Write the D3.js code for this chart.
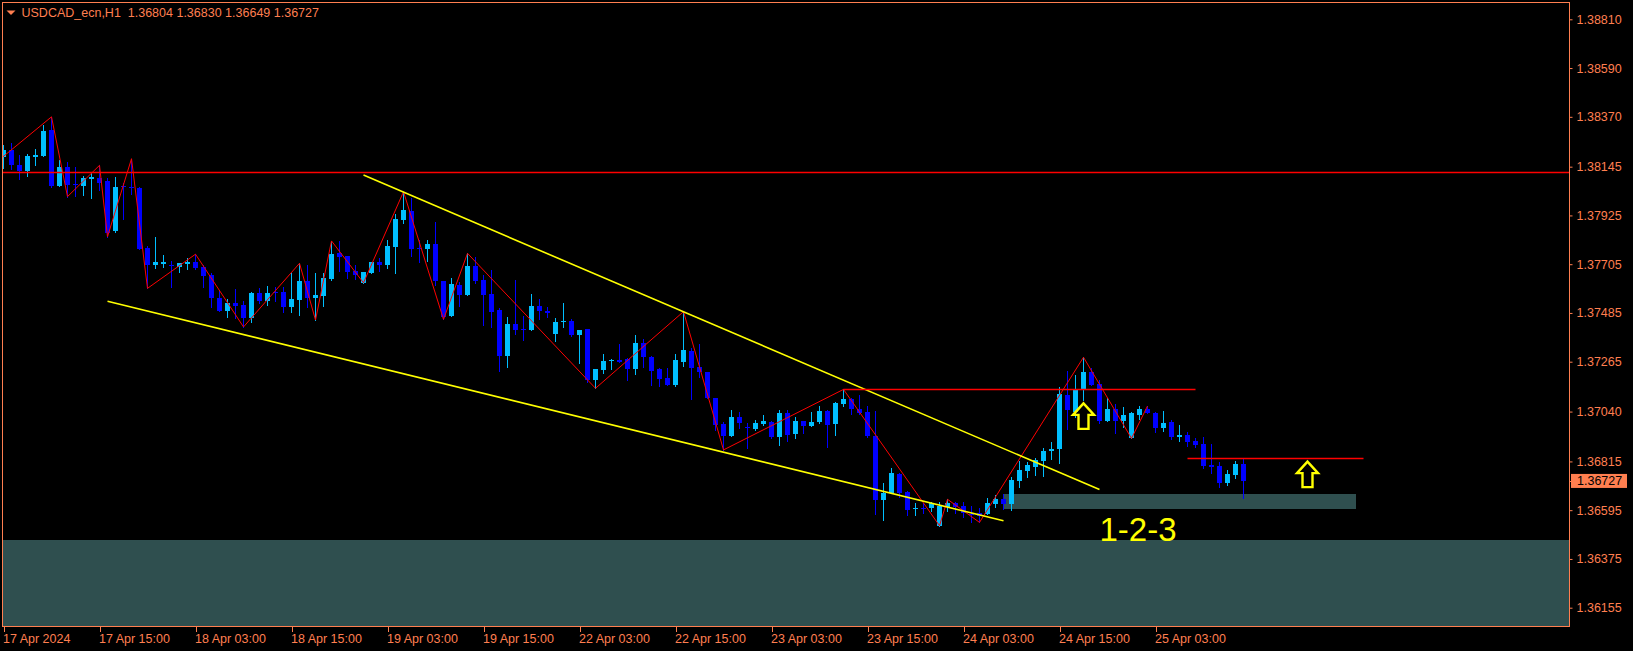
<!DOCTYPE html>
<html><head><meta charset="utf-8">
<script src="https://cdn.jsdelivr.net/npm/d3@7"></script>
<style>
html,body{margin:0;padding:0;background:#000;overflow:hidden;}
svg{display:block;}
text{font-family:"Liberation Sans",Arial,sans-serif;}
</style></head><body>
<svg id="chart" width="1633" height="651"></svg>
<script>
// ---------- DATA ----------
const symbolTitle = "USDCAD_ecn,H1";
const headerOHLC = [1.36804, 1.36830, 1.36649, 1.36727];

const opens = [
1.38187,1.38220,1.38152,1.38125,1.38190,1.38194,1.38310,1.38059,1.38144,1.38067,
1.38059,1.38091,1.38095,1.38080,1.37855,1.38058,1.38055,1.38050,1.37778,1.37701,
1.37707,1.37703,1.37694,1.37706,1.37716,1.37692,1.37656,1.37554,1.37495,1.37531,
1.37521,1.37464,1.37576,1.37538,1.37578,1.37580,1.37513,1.37543,1.37629,1.37554,
1.37561,1.37638,1.37756,1.37742,1.37674,1.37621,1.37667,1.37715,1.37701,1.37784,
1.37904,1.37946,1.37779,1.37774,1.37796,1.37629,1.37471,1.37611,1.37566,1.37697,
1.37634,1.37570,1.37498,1.37292,1.37435,1.37411,1.37408,1.37518,1.37494,1.37390,
1.37444,1.37449,1.37386,1.37411,1.37182,1.37228,1.37267,1.37273,1.37276,1.37232,
1.37351,1.37288,1.37231,1.37193,1.37160,1.37265,1.37313,1.37240,1.37220,1.37103,
1.36984,1.36931,1.37016,1.36972,1.36961,1.36983,1.36994,1.36927,1.37034,1.36939,
1.36997,1.36976,1.36992,1.37043,1.36984,1.37073,1.37097,1.37050,1.37039,1.36930,
1.36641,1.36671,1.36758,1.36678,1.36599,1.36606,1.36604,1.36525,1.36611,1.36626,
1.36615,1.36578,1.36581,1.36578,1.36623,1.36645,1.36623,1.36728,1.36772,1.36791,
1.36818,1.36861,1.36870,1.37115,1.37039,1.37140,1.37220,1.37164,1.36999,1.37052,
1.36999,1.36919,1.37025,1.37052,1.37032,1.36967,1.36992,1.36927,1.36934,1.36907,
1.36894,1.36799,1.36794,1.36716,1.36754,1.36804];
const highs = [
1.38243,1.38250,1.38198,1.38202,1.38225,1.38333,1.38370,1.38175,1.38166,1.38144,
1.38102,1.38115,1.38151,1.38093,1.38097,1.38070,1.38181,1.38052,1.37788,1.37829,
1.37746,1.37718,1.37712,1.37733,1.37750,1.37703,1.37664,1.37589,1.37547,1.37593,
1.37539,1.37581,1.37599,1.37607,1.37603,1.37603,1.37665,1.37709,1.37701,1.37667,
1.37664,1.37810,1.37810,1.37742,1.37701,1.37671,1.37716,1.37734,1.37814,1.37931,
1.38032,1.38002,1.37814,1.37814,1.37897,1.37629,1.37641,1.37626,1.37754,1.37739,
1.37656,1.37679,1.37509,1.37467,1.37634,1.37471,1.37570,1.37547,1.37510,1.37461,
1.37529,1.37456,1.37408,1.37413,1.37232,1.37300,1.37277,1.37345,1.37280,1.37386,
1.37366,1.37291,1.37238,1.37238,1.37300,1.37491,1.37326,1.37345,1.37220,1.37103,
1.36994,1.37047,1.37039,1.36987,1.37002,1.37025,1.36997,1.37047,1.37047,1.37016,
1.36997,1.37039,1.37066,1.37047,1.37085,1.37140,1.37103,1.37115,1.37065,1.37043,
1.36716,1.36787,1.36764,1.36682,1.36626,1.36626,1.36633,1.36633,1.36644,1.36633,
1.36633,1.36615,1.36604,1.36651,1.36664,1.36667,1.36746,1.36817,1.36814,1.36829,
1.36877,1.36904,1.37150,1.37223,1.37205,1.37285,1.37235,1.37182,1.37100,1.37074,
1.37062,1.37039,1.37065,1.37065,1.37039,1.37043,1.37002,1.36979,1.36946,1.36919,
1.36927,1.36894,1.36814,1.36776,1.36817,1.36830];
const lows = [
1.38140,1.38134,1.38089,1.38104,1.38152,1.38194,1.38055,1.38059,1.38010,1.38013,
1.38017,1.38005,1.38040,1.37829,1.37850,1.37909,1.38022,1.37772,1.37596,1.37689,
1.37694,1.37603,1.37671,1.37682,1.37682,1.37603,1.37513,1.37495,1.37468,1.37462,
1.37422,1.37444,1.37529,1.37522,1.37539,1.37491,1.37491,1.37476,1.37513,1.37453,
1.37518,1.37634,1.37674,1.37641,1.37638,1.37621,1.37667,1.37676,1.37689,1.37667,
1.37892,1.37743,1.37716,1.37719,1.37611,1.37456,1.37471,1.37518,1.37566,1.37621,
1.37431,1.37423,1.37223,1.37243,1.37390,1.37363,1.37408,1.37458,1.37468,1.37358,
1.37423,1.37382,1.37260,1.37175,1.37145,1.37215,1.37231,1.37265,1.37182,1.37210,
1.37240,1.37160,1.37155,1.37160,1.37155,1.37247,1.37095,1.37197,1.37100,1.36957,
1.36867,1.36931,1.36967,1.36874,1.36957,1.36979,1.36919,1.36889,1.36907,1.36922,
1.36945,1.36976,1.36987,1.36879,1.36934,1.37066,1.37029,1.37029,1.36924,1.36578,
1.36551,1.36671,1.36656,1.36573,1.36573,1.36581,1.36593,1.36525,1.36591,1.36581,
1.36566,1.36543,1.36540,1.36578,1.36611,1.36599,1.36596,1.36701,1.36746,1.36754,
1.36751,1.36825,1.36807,1.36961,1.37017,1.37092,1.37160,1.36987,1.36999,1.36942,
1.36972,1.36919,1.37005,1.37035,1.36949,1.36954,1.36916,1.36909,1.36886,1.36882,
1.36787,1.36762,1.36701,1.36709,1.36742,1.36649];
const closes = [
1.38220,1.38152,1.38125,1.38194,1.38198,1.38306,1.38059,1.38144,1.38062,1.38062,
1.38094,1.38100,1.38071,1.37844,1.38053,1.38052,1.38047,1.37774,1.37701,1.37715,
1.37715,1.37700,1.37709,1.37716,1.37688,1.37653,1.37554,1.37495,1.37531,1.37518,
1.37464,1.37576,1.37538,1.37576,1.37574,1.37510,1.37548,1.37629,1.37554,1.37567,
1.37643,1.37751,1.37737,1.37671,1.37656,1.37668,1.37716,1.37701,1.37787,1.37909,
1.37950,1.37774,1.37775,1.37796,1.37629,1.37468,1.37616,1.37566,1.37697,1.37629,
1.37566,1.37491,1.37292,1.37435,1.37409,1.37408,1.37518,1.37494,1.37486,1.37445,
1.37450,1.37386,1.37408,1.37182,1.37232,1.37270,1.37274,1.37265,1.37232,1.37351,
1.37285,1.37223,1.37187,1.37160,1.37274,1.37318,1.37238,1.37220,1.37100,1.36979,
1.36931,1.37016,1.36990,1.36965,1.36990,1.36997,1.36927,1.37032,1.36934,1.36997,
1.36976,1.36994,1.37043,1.36979,1.37080,1.37097,1.37050,1.37035,1.36930,1.36641,
1.36674,1.36764,1.36671,1.36596,1.36606,1.36602,1.36626,1.36614,1.36629,1.36611,
1.36581,1.36573,1.36569,1.36629,1.36645,1.36623,1.36731,1.36776,1.36799,1.36822,
1.36862,1.36870,1.37118,1.37047,1.37137,1.37220,1.37160,1.36999,1.37052,1.36999,
1.37025,1.37032,1.37052,1.37035,1.36967,1.36987,1.36927,1.36934,1.36904,1.36889,
1.36794,1.36791,1.36716,1.36758,1.36803,1.36727];

const timeLabelBars = [0,12,24,36,48,60,72,84,96,108,120,132,144];
const timeLabels = ["17 Apr 2024","17 Apr 15:00","18 Apr 03:00","18 Apr 15:00","19 Apr 03:00","19 Apr 15:00",
  "22 Apr 03:00","22 Apr 15:00","23 Apr 03:00","23 Apr 15:00","24 Apr 03:00","24 Apr 15:00","25 Apr 03:00"];
const priceTicks = [1.38810,1.38590,1.38370,1.38145,1.37925,1.37705,1.37485,1.37265,1.37040,1.36815,1.36595,1.36375,1.36155];

// zigzag vertices: [bar index, price]
const zigzag = [[-1,1.38162],[6,1.38370],[8,1.38010],[12,1.38151],[13,1.37829],[16,1.38181],[18,1.37596],
  [24,1.37750],[30,1.37422],[37,1.37709],[39,1.37453],[41,1.37810],[45,1.37621],[50,1.38032],[55,1.37456],
  [58,1.37754],[74,1.37145],[85,1.37491],[90,1.36867],[105,1.37140],[117,1.36525],[118,1.36644],[122,1.36540],
  [135,1.37285],[141,1.36919],[143,1.37065]];
// trend lines: [bar1, price1, bar2, price2]
const trendLines = [[45,1.38107,137,1.36688],[13,1.37538,125,1.36547]];
// horizontal lines: [price, fromBar, toBar]
const hLines = [[1.38120,-10,260],[1.37140,105,149],[1.36829,148,170]];
// rectangles: [fromBar, toBar, priceTop, priceBottom]
const rects = [[-10,260,1.36461,1.35900],[125,169,1.36668,1.36600]];
// arrows: [bar, price of tip]
const arrows = [[135,1.37077],[163,1.36814]];
// text label: [bar, price baseline, text]
const labels123 = [[137,1.36456,"1-2-3"]];

// ---------- CHART ----------
const W=1633,H=651;
const L=2.5,R=1569.5,T=2.5,B=626.5;
const AX="#FF7F50", BULL="#00BFFF", BEAR="#0000FF";
const svg=d3.select("#chart");
svg.append("rect").attr("width",W).attr("height",H).attr("fill","#000");

const x=d3.scaleLinear().domain([0,195]).range([3.5,3.5+8*195]);
const y=d3.scaleLinear().domain([priceTicks[0],priceTicks[priceTicks.length-1]]).range([19.3,607.7]);

svg.append("defs").append("clipPath").attr("id","plot").append("rect")
  .attr("x",L).attr("y",T).attr("width",R-L).attr("height",B-T);
const g=svg.append("g").attr("clip-path","url(#plot)");

// rectangles
g.selectAll("rect.zone").data(rects).join("rect").attr("class","zone")
  .attr("x",d=>x(d[0])).attr("width",d=>x(d[1])-x(d[0]))
  .attr("y",d=>Math.round(y(d[2]))).attr("height",d=>Math.round(y(d[3]))-Math.round(y(d[2])))
  .attr("fill","#2F4F4F").attr("shape-rendering","crispEdges");

// candles
const bars=d3.range(opens.length).map(i=>({i,o:opens[i],h:highs[i],l:lows[i],c:closes[i]}));
const cg=g.append("g").attr("shape-rendering","crispEdges");
cg.selectAll("line").data(bars).join("line")
  .attr("x1",d=>x(d.i)).attr("x2",d=>x(d.i))
  .attr("y1",d=>Math.round(y(d.h))).attr("y2",d=>Math.round(y(d.l))+1)
  .attr("stroke",d=>d.c>=d.o?BULL:BEAR).attr("stroke-width",1);
cg.selectAll("rect").data(bars).join("rect")
  .attr("x",d=>x(d.i)-2.5).attr("width",5)
  .attr("y",d=>Math.round(y(Math.max(d.o,d.c))))
  .attr("height",d=>Math.max(1,Math.round(y(Math.min(d.o,d.c)))-Math.round(y(Math.max(d.o,d.c)))))
  .attr("fill",d=>d.c>=d.o?BULL:BEAR);

// zigzag
g.append("path").datum(zigzag)
  .attr("d",d3.line().x(d=>x(d[0])).y(d=>y(d[1])))
  .attr("fill","none").attr("stroke","#FF0000").attr("stroke-width",1);

// trend lines
g.selectAll("line.trend").data(trendLines).join("line").attr("class","trend")
  .attr("x1",d=>x(d[0])).attr("y1",d=>y(d[1])).attr("x2",d=>x(d[2])).attr("y2",d=>y(d[3]))
  .attr("stroke","#FFFF00").attr("stroke-width",1.6);

// horizontal lines
g.selectAll("line.h").data(hLines).join("line").attr("class","h")
  .attr("x1",d=>x(d[1])).attr("x2",d=>x(d[2]))
  .attr("y1",d=>Math.round(y(d[0]))+0.5).attr("y2",d=>Math.round(y(d[0]))+0.5)
  .attr("stroke","#FF0000").attr("stroke-width",1.6);

// arrows
const arrowPath="M0,0 L10.5,11.5 L5,11.5 L5,25.5 L-5,25.5 L-5,11.5 L-10.5,11.5 Z";
g.selectAll("path.arrow").data(arrows).join("path").attr("class","arrow")
  .attr("transform",d=>`translate(${x(d[0])},${y(d[1])})`)
  .attr("d",arrowPath).attr("fill","none").attr("stroke","#FFFF00").attr("stroke-width",2.4)
  .attr("stroke-linejoin","miter");

// 1-2-3 text
g.selectAll("text.lbl").data(labels123).join("text").attr("class","lbl")
  .attr("x",d=>x(d[0])).attr("y",d=>y(d[1])).text(d=>d[2])
  .attr("fill","#FFFF00").attr("font-size","33px");

// frame
svg.append("rect").attr("x",L).attr("y",T).attr("width",R-L).attr("height",B-T)
  .attr("fill","none").attr("stroke",AX).attr("stroke-width",1).attr("shape-rendering","crispEdges");

// y axis
const ya=svg.append("g").attr("transform",`translate(${R},0)`)
  .call(d3.axisRight(y).tickValues(priceTicks).tickSize(3).tickFormat(d3.format(".5f")));
ya.select(".domain").remove();
ya.selectAll("line").attr("stroke",AX);
ya.selectAll("text").attr("fill",AX).attr("font-size","12.5px").attr("x",7).attr("font-family","Liberation Sans, Arial, sans-serif");

// current price tag
const cp=headerOHLC[3];
svg.append("line").attr("x1",R).attr("x2",R+3).attr("y1",Math.round(y(cp))+0.5).attr("y2",Math.round(y(cp))+0.5).attr("stroke",AX);
svg.append("rect").attr("x",R+1.5).attr("y",y(cp)-7).attr("width",56).attr("height",14).attr("fill",AX);
svg.append("text").attr("x",R+7.5).attr("y",y(cp)).attr("dy","0.36em").attr("font-size","12.5px")
  .attr("fill","#000").text(d3.format(".5f")(cp));

// x axis
const xa=svg.append("g").attr("transform",`translate(0,${B})`)
  .call(d3.axisBottom(x).tickValues(timeLabelBars).tickSize(5).tickFormat((d,i)=>timeLabels[i]));
xa.select(".domain").remove();
xa.selectAll("line").attr("stroke",AX).attr("shape-rendering","crispEdges");
xa.selectAll("text").attr("fill",AX).attr("font-size","12.5px").attr("text-anchor","start").attr("x",-1)
  .attr("font-family","Liberation Sans, Arial, sans-serif");

// header
svg.append("path").attr("d","M6.5,10.5 L15.5,10.5 L11,15 Z").attr("fill",AX);
svg.append("text").attr("x",21.5).attr("y",16.5).attr("font-size","12.5px").attr("fill",AX)
  .style("white-space","pre")
  .text(symbolTitle+"  "+headerOHLC.map(d3.format(".5f")).join(" "));
</script>
</body></html>
